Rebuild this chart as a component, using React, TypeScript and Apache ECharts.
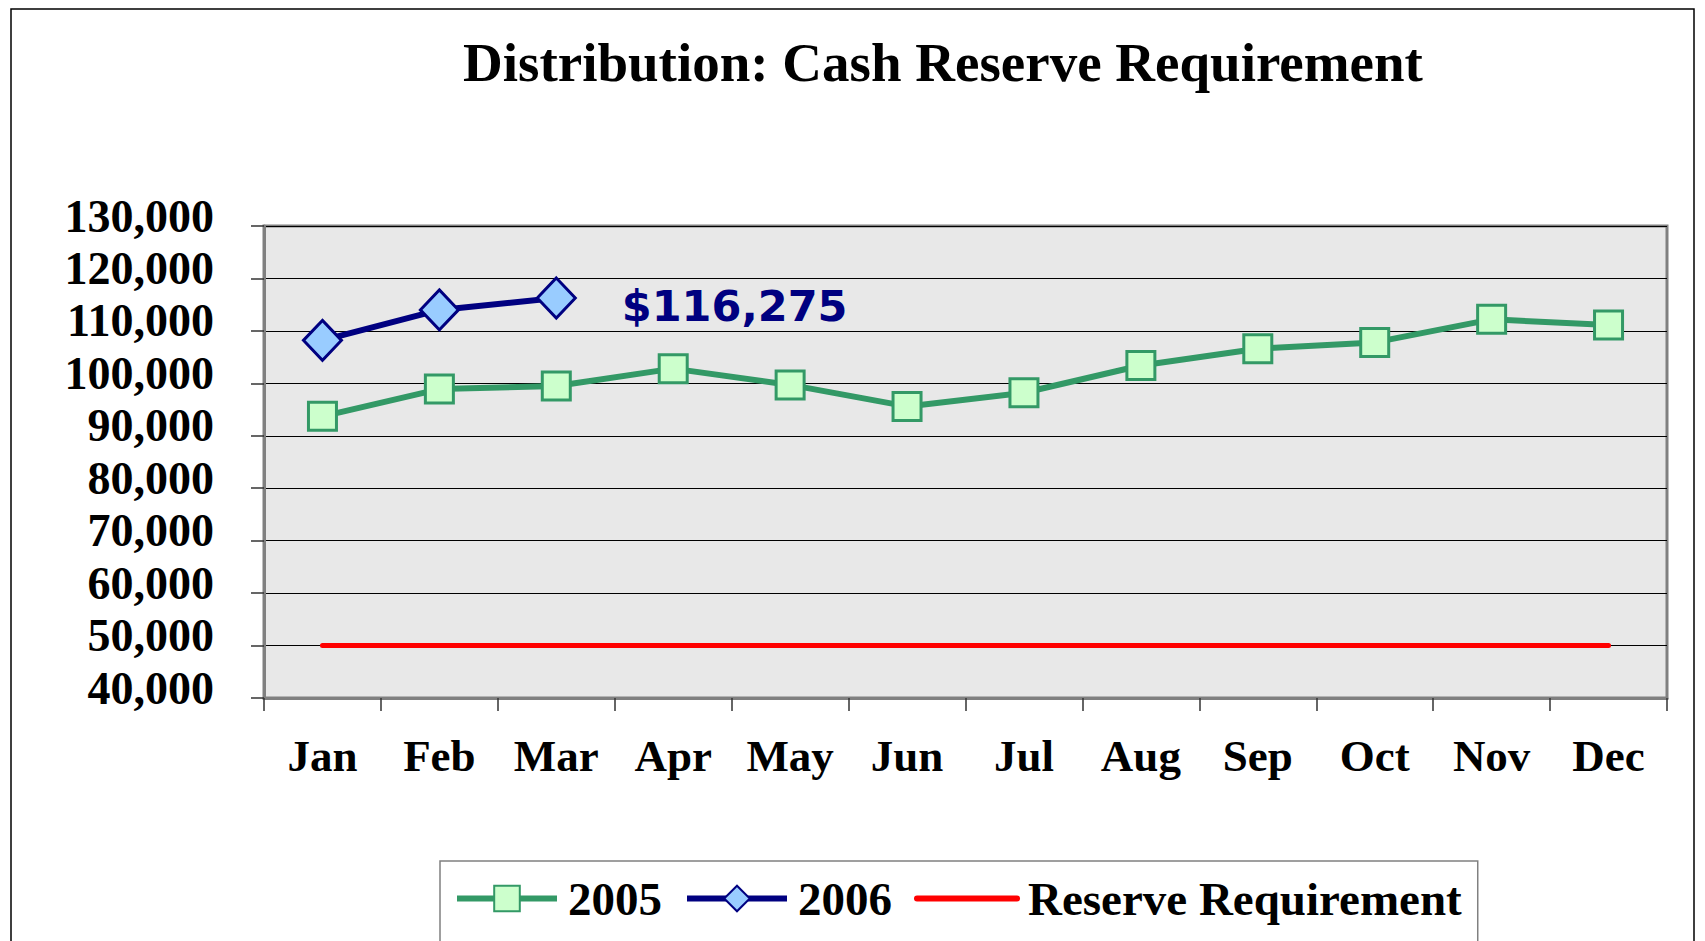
import React, { useEffect, useRef } from "react";
import * as echarts from "echarts";

const months = ["Jan", "Feb", "Mar", "Apr", "May", "Jun", "Jul", "Aug", "Sep", "Oct", "Nov", "Dec"];
const values2005 = [93700, 98900, 99500, 102800, 99700, 95600, 98200, 103400, 106600, 107800, 112200, 111100];
const values2006 = [108200, 114000, 116275];
const reserveRequirement = [50000, 50000, 50000, 50000, 50000, 50000, 50000, 50000, 50000, 50000, 50000, 50000];
const seriesNames = ["2005", "2006", "Reserve Requirement"];
const titleText = "Distribution: Cash Reserve Requirement";

const SERIF = "'Liberation Serif', 'Times New Roman', serif";

export default function App() {
  const ref = useRef<HTMLDivElement>(null);
  useEffect(() => {
    const chart = echarts.init(ref.current!, null, { renderer: "svg" });
    const lastIdx = values2006.length - 1;
    chart.setOption({
      animation: false,
      backgroundColor: "#ffffff",
      title: {
        text: titleText,
        left: 458,
        top: 30,
        textStyle: { fontFamily: SERIF, fontWeight: "bold", fontSize: 55, color: "#000" },
      },
      graphic: [
        {
          type: "rect",
          silent: true,
          z: -10,
          shape: { x: 11, y: 9, width: 1683, height: 1000 },
          style: { fill: "none", stroke: "#000", lineWidth: 1.5 },
        },
      ],
      legend: {
        data: [
          { name: seriesNames[0], lineStyle: { width: 6, color: "#339966" } },
          { name: seriesNames[1], lineStyle: { width: 6, color: "#000080" } },
          {
            name: seriesNames[2],
            lineStyle: { width: 6, color: "#FF0000", cap: "round" },
            itemStyle: { opacity: 0 },
          },
        ],
        left: 440,
        top: 861,
        padding: [14, 16, 60, 14],
        borderColor: "#808080",
        borderWidth: 1.5,
        itemGap: 22,
        itemWidth: 100,
        itemHeight: 32,
        textStyle: { fontFamily: SERIF, fontWeight: "bold", fontSize: 47, color: "#000", padding: [0, 0, 0, 6] },
      },
      grid: {
        left: 264,
        top: 226,
        right: 38,
        bottom: 243,
        show: true,
        backgroundColor: "#E8E8E8",
        borderColor: "#808080",
        borderWidth: 3,
      },
      xAxis: {
        type: "category",
        data: months,
        boundaryGap: true,
        axisLine: { show: true, lineStyle: { color: "#808080", width: 3 } },
        axisTick: { show: true, length: 13, lineStyle: { color: "#333", width: 1.5 } },
        axisLabel: { margin: 35, fontFamily: SERIF, fontWeight: "bold", fontSize: 45, color: "#000" },
        splitLine: { show: false },
      },
      yAxis: {
        type: "value",
        min: 40000,
        max: 130000,
        interval: 10000,
        axisLine: { show: true, lineStyle: { color: "#808080", width: 3 } },
        axisTick: { show: true, length: 13, lineStyle: { color: "#333", width: 1.5 } },
        axisLabel: {
          margin: 50,
          color: "#000",
          formatter: (v: number) => "{v|" + v.toLocaleString("en-US") + "}",
          rich: {
            v: {
              fontFamily: SERIF,
              fontWeight: "bold",
              fontSize: 46,
              color: "#000",
              padding: [0, 0, 20, 0],
            },
          },
        },
        splitLine: { show: true, lineStyle: { color: "#000", width: 1 } },
      },
      series: [
        {
          name: seriesNames[2],
          type: "line",
          data: reserveRequirement,
          symbol: "none",
          z: 1,
          lineStyle: { color: "#FF0000", width: 5, cap: "round" },
          itemStyle: { color: "#FF0000" },
        },
        {
          name: seriesNames[0],
          type: "line",
          data: values2005,
          symbol: "rect",
          symbolSize: 28,
          z: 3,
          lineStyle: { color: "#339966", width: 6 },
          itemStyle: { color: "#CCFFCC", borderColor: "#339966", borderWidth: 3 },
        },
        {
          name: seriesNames[1],
          type: "line",
          data: values2006.map((v, i) =>
            i === lastIdx
              ? {
                  value: v,
                  label: {
                    show: true,
                    position: "right",
                    distance: 45,
                    offset: [0, 8],
                    formatter: (p: any) => "$" + Number(p.value).toLocaleString("en-US"),
                    fontFamily: "'DejaVu Sans', sans-serif",
                    fontWeight: "bold",
                    fontSize: 43,
                    color: "#000080",
                  },
                }
              : v
          ),
          symbol: "diamond",
          symbolSize: [38, 40],
          z: 4,
          lineStyle: { color: "#000080", width: 6 },
          itemStyle: { color: "#99CCFF", borderColor: "#000080", borderWidth: 3 },
        },
      ],
    });
    return () => chart.dispose();
  }, []);
  return (
    <div
      ref={ref}
      style={{ position: "fixed", left: 0, top: 0, width: 1705, height: 941, background: "#fff" }}
    />
  );
}
